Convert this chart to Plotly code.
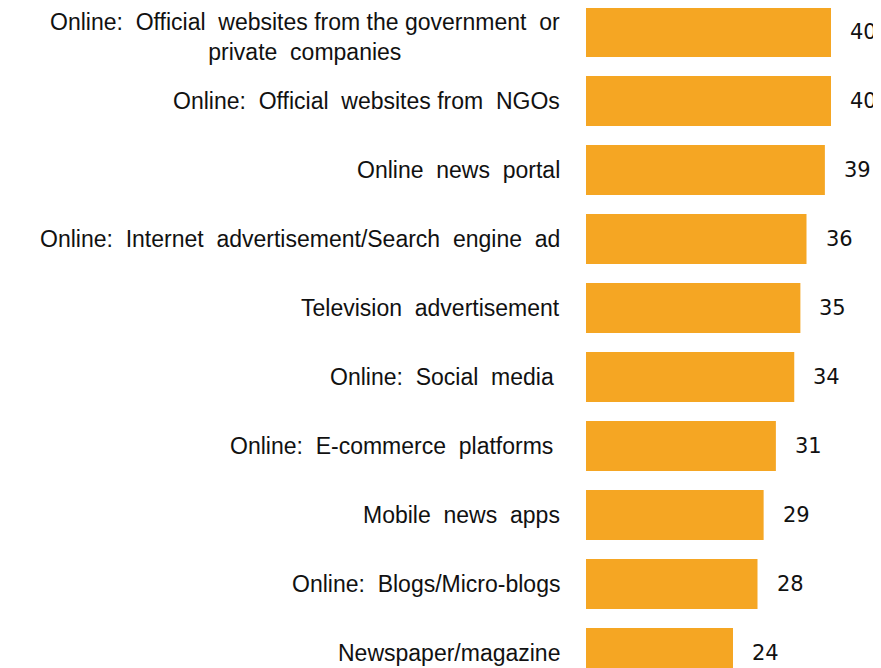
import plotly.graph_objects as go

categories = [
    "Online:  Official  websites from the government  or<br>private  companies",
    "Online:  Official  websites from  NGOs",
    "Online  news  portal",
    "Online:  Internet  advertisement/Search  engine  ad",
    "Television  advertisement",
    "Online:  Social  media ",
    "Online:  E-commerce  platforms ",
    "Mobile  news  apps",
    "Online:  Blogs/Micro-blogs",
    "Newspaper/magazine",
]
values = [40, 40, 39, 36, 35, 34, 31, 29, 28, 24]

BAR = "#F5A623"
LABEL_FONT = dict(family="Liberation Sans", size=23, color="#111111")
VALUE_FONT = dict(family="DejaVu Sans", size=21, color="#111111")

ys = list(range(len(categories)))

fig = go.Figure(go.Bar(
    x=values, y=ys, orientation="h",
    marker=dict(color=BAR, line=dict(width=0)),
    width=0.725, hoverinfo="skip",
))

for y, c, v in zip(ys, categories, values):
    fig.add_annotation(x=0, y=y, text=c.replace("  ", "&nbsp; "), xref="x", yref="y",
                       xanchor="right", yanchor="middle", align="center",
                       xshift=-24, yshift=(-5 if "<br>" in c else 0),
                       showarrow=False, font=LABEL_FONT)
    fig.add_annotation(x=v, y=y, text=str(v), xref="x", yref="y",
                       xanchor="left", yanchor="middle", xshift=17,
                       showarrow=False, font=VALUE_FONT)

W, H = 873, 660
L = 578
fig.update_layout(
    width=W, height=H,
    margin=dict(l=L, r=0, t=0, b=0),
    paper_bgcolor="white", plot_bgcolor="white",
    showlegend=False,
    xaxis=dict(range=[0, (W - L) / 6.125], visible=False),
    yaxis=dict(range=[(H - 24) / 69, -24 / 69], visible=False),
)

fig.write_html("out.html")
